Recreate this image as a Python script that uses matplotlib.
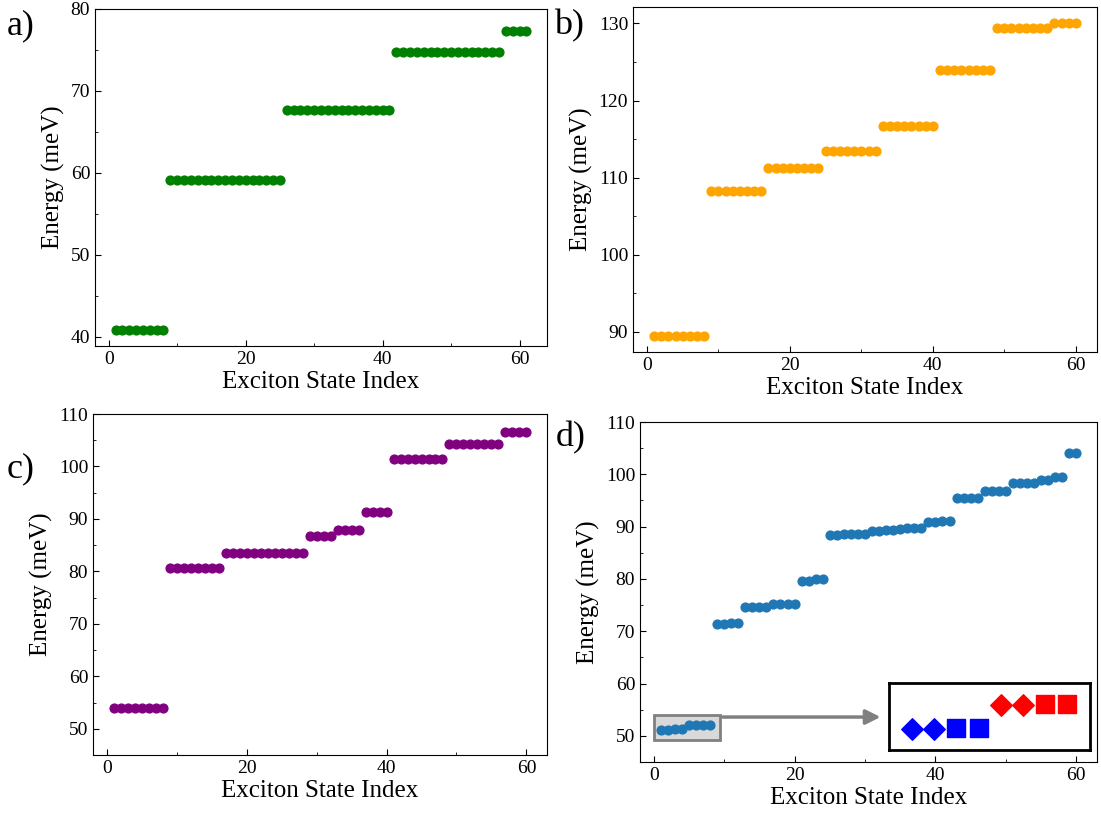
import numpy as np
import matplotlib.pyplot as plt
from matplotlib.ticker import MultipleLocator
from matplotlib.patches import Rectangle

plt.rcParams['font.family'] = ['Liberation Serif', 'DejaVu Serif']
plt.rcParams['mathtext.fontset'] = 'stix'

# a) energy levels, 61 states
a_levels = [40.8, 59.1, 67.7, 74.8, 77.3]
a_counts = [8, 17, 16, 16, 4]

# b) energy levels, 60 states
b_levels = [89.4, 108.3, 111.3, 113.4, 116.7, 123.9, 129.45, 130.1]
b_counts = [8, 8, 8, 8, 8, 8, 8, 4]

# c) energy levels, 60 states
c_levels = [53.9, 80.6, 83.6, 86.7, 87.9, 91.3, 101.5, 104.3, 106.5]
c_counts = [8, 8, 12, 4, 4, 4, 8, 8, 4]

# d) individual state energies
d_energy = [51.2, 51.2, 51.22, 51.22, 52.0, 52.0, 52.05, 52.05,
            71.4, 71.4, 71.5, 71.5, 74.6, 74.6, 74.6, 74.7,
            75.3, 75.3, 75.3, 75.3, 79.6, 79.6, 79.9, 80.0,
            88.4, 88.4, 88.5, 88.5, 88.5, 88.6, 89.2, 89.2,
            89.3, 89.3, 89.6, 89.7, 89.7, 89.7, 90.8, 90.9,
            91.0, 91.0, 95.5, 95.5, 95.5, 95.5, 96.9, 96.9,
            96.9, 96.9, 98.3, 98.3, 98.3, 98.3, 99.0, 99.0,
            99.4, 99.4, 104.1, 104.1]

# zoomed view of the lowest eight states
inset_x = [1, 2, 3, 4, 5, 6, 7, 8]
inset_marker = ['D', 'D', 's', 's', 'D', 'D', 's', 's']
inset_color = ['blue', 'blue', 'blue', 'blue', 'red', 'red', 'red', 'red']


def expand(levels, counts):
    return np.repeat(levels, counts)


def style(ax):
    ax.xaxis.set_major_locator(MultipleLocator(20))
    ax.xaxis.set_minor_locator(MultipleLocator(10))
    ax.yaxis.set_major_locator(MultipleLocator(10))
    ax.yaxis.set_minor_locator(MultipleLocator(5))
    ax.tick_params(which='both', direction='in', labelsize=14)
    ax.tick_params(which='major', length=4)
    ax.tick_params(which='minor', length=2.5)
    ax.set_xlabel('Exciton State Index', fontsize=18, labelpad=2)
    ax.set_ylabel('Energy (meV)', fontsize=18, labelpad=4)


fig = plt.figure(figsize=(11.01, 8.15), dpi=100)

ax_a = fig.add_axes([0.0863, 0.5755, 0.4105, 0.4135])
ea = expand(a_levels, a_counts)
ax_a.scatter(np.arange(1, len(ea) + 1), ea, s=40, c='green', zorder=3)
ax_a.set_ylim(38.9, 80)
ax_a.set_xlim(-2, 64)
style(ax_a)

ax_b = fig.add_axes([0.5749, 0.5681, 0.4214, 0.4233])
eb = expand(b_levels, b_counts)
ax_b.scatter(np.arange(1, len(eb) + 1), eb, s=40, c='orange', zorder=3)
style(ax_b)

ax_c = fig.add_axes([0.0845, 0.0736, 0.4124, 0.4184])
ec = expand(c_levels, c_counts)
ax_c.scatter(np.arange(1, len(ec) + 1), ec, s=40, c='purple', zorder=3)
ax_c.set_ylim(45, 110)
style(ax_c)

ax_d = fig.add_axes([0.5813, 0.0650, 0.4151, 0.4172])
ax_d.scatter(np.arange(1, len(d_energy) + 1), d_energy, s=40, c='#1f77b4', zorder=3)
ax_d.set_ylim(45, 110)
style(ax_d)

# highlight box around the lowest states and arrow to the inset
ax_d.add_patch(Rectangle((0, 49.3), 9.4, 4.7, facecolor='#d9d9d9',
                         edgecolor='gray', lw=2, zorder=2))
ax_d.annotate('', xy=(32.6, 53.6), xytext=(9.4, 53.6),
              arrowprops=dict(arrowstyle='-|>', color='gray', lw=2.5,
                              mutation_scale=22))

ins = ax_d.inset_axes([0.544, 0.034, 0.4416, 0.198])
for x, y, m, c in zip(inset_x, d_energy[:8], inset_marker, inset_color):
    ins.scatter(x, y, marker=m, s=120 if m == 'D' else 150, c=c, zorder=3)
ins.set_xlim(-0.06, 9.05)
ins.set_ylim(50.45, 52.75)
ins.set_xticks([])
ins.set_yticks([])
for sp in ins.spines.values():
    sp.set_linewidth(2)

panel_labels = [('a)', 0.006, 0.968), ('b)', 0.503, 0.968),
                ('c)', 0.006, 0.425), ('d)', 0.505, 0.463)]
for lab, px, py in panel_labels:
    fig.text(px, py, lab, fontsize=26, va='center', ha='left')

fig.savefig('out.png', dpi=100)
